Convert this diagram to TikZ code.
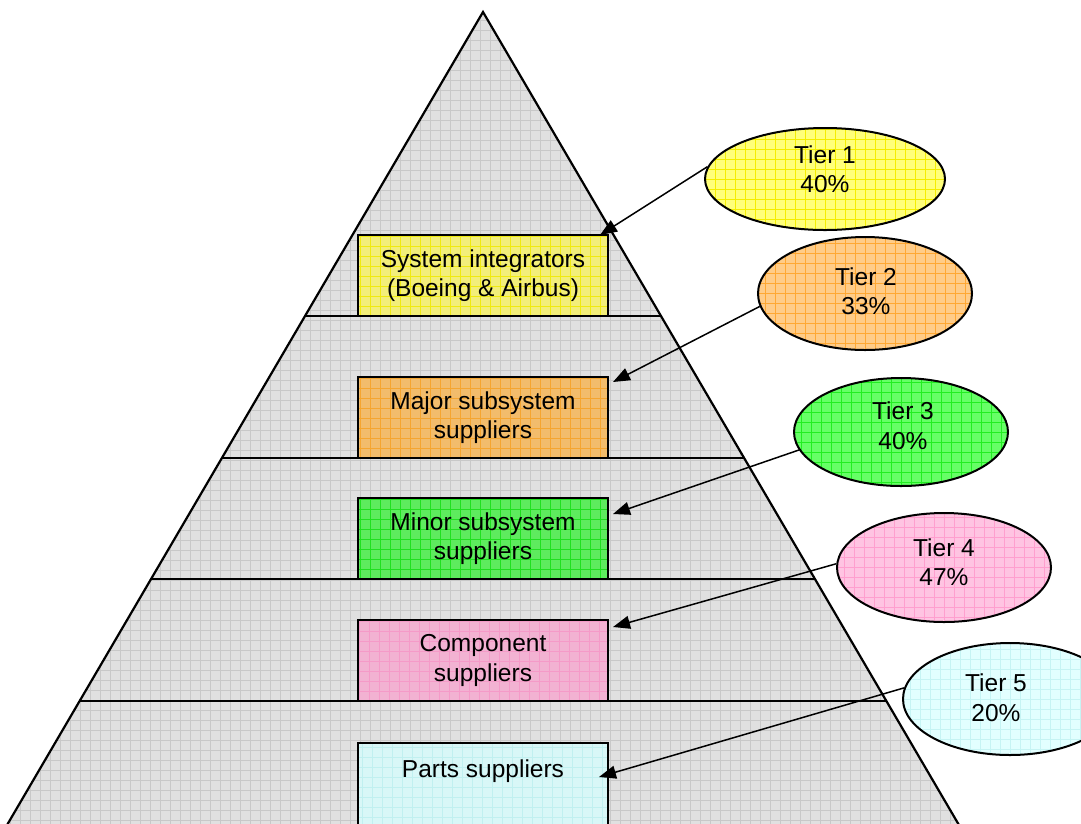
\documentclass[tikz,border=0pt]{standalone}
\usepackage{fontspec}
\setmainfont{Liberation Sans}
\usetikzlibrary{shapes.geometric,arrows.meta}

% fills and their grid lines
\definecolor{trifill}{HTML}{E0E0E0}\definecolor{trigrid}{HTML}{C8C8C8}
\definecolor{bAfill}{HTML}{F2EE7A}\definecolor{bAgrid}{HTML}{F0EA10}
\definecolor{bBfill}{HTML}{F2BC6C}\definecolor{bBgrid}{HTML}{F5A530}
\definecolor{bCfill}{HTML}{5EEB5E}\definecolor{bCgrid}{HTML}{20E020}
\definecolor{bDfill}{HTML}{F2B2D2}\definecolor{bDgrid}{HTML}{F59AC8}
\definecolor{bEfill}{HTML}{D8F7F7}\definecolor{bEgrid}{HTML}{C0F0F0}
\definecolor{eAfill}{HTML}{FFFF7A}\definecolor{eAgrid}{HTML}{F5EE00}
\definecolor{eBfill}{HTML}{FFCC88}\definecolor{eBgrid}{HTML}{FFA833}
\definecolor{eCfill}{HTML}{66FF66}\definecolor{eCgrid}{HTML}{22EE22}
\definecolor{eDfill}{HTML}{FFC4E2}\definecolor{eDgrid}{HTML}{FF9FCF}
\definecolor{eEfill}{HTML}{E2FFFF}\definecolor{eEgrid}{HTML}{C6F4F4}

\begin{document}
\begin{tikzpicture}[x=1pt,y=-1pt,
  every node/.style={font=\fontsize{24.5pt}{29.5pt}\selectfont},
  outline/.style={draw=black, line width=2pt},
  gridded/.style 2 args={fill=#1, path picture={
      \draw[#2, line width=0.9pt]
        ([shift={(-20pt,-20pt)}]path picture bounding box.south west)
        grid[step=10pt]
        ([shift={(20pt,20pt)}]path picture bounding box.north east);}},
  tierbox/.style={outline, rectangle, minimum width=250pt, minimum height=81pt,
      inner sep=0pt, align=center},
  basebox/.style={outline, rectangle, minimum width=250pt, inner sep=0pt,
      text height=34pt, text depth=70pt, anchor=north},
  tierell/.style={outline, ellipse, inner sep=0pt},
  lbl/.style={align=center, inner sep=0pt},
  divider/.style={line width=2pt},
  arr/.style={line width=1.5pt, -{Triangle[length=17pt,width=13pt]}}]

\useasboundingbox (0,0) rectangle (1081,823);
\clip (0,0) rectangle (1081,823);
\fill[white] (0,0) rectangle (1081,823);

% pyramid
\draw[line width=2.2pt, line join=miter, gridded={trifill}{trigrid}]
  (483,12) -- (973.6,850) -- (-7.6,850) -- cycle;

% tier dividers
\draw[divider] (305,316) -- (661,316);
\draw[divider] (222,458) -- (744,458);
\draw[divider] (151,579) -- (815,579);
\draw[divider] (79,701) -- (887,701);

% tier boxes
\node[tierbox, gridded={bAfill}{bAgrid}] (b1) at (483,275.5) {System integrators\\(Boeing \& Airbus)};
\node[tierbox, gridded={bBfill}{bBgrid}] (b2) at (483,417.5) {Major subsystem\\suppliers};
\node[tierbox, gridded={bCfill}{bCgrid}] (b3) at (483,538.5) {Minor subsystem\\suppliers};
\node[tierbox, gridded={bDfill}{bDgrid}] (b4) at (483,660.5) {Component\\suppliers};
\node[basebox, gridded={bEfill}{bEgrid}] (b5) at (483,742) {Parts suppliers};

% share ellipses
\node[tierell, gridded={eAfill}{eAgrid}, minimum width=240pt, minimum height=102pt] (e1) at (825,179) {};
\node[tierell, gridded={eBfill}{eBgrid}, minimum width=214pt, minimum height=113pt] (e2) at (865,293.5) {};
\node[tierell, gridded={eCfill}{eCgrid}, minimum width=214pt, minimum height=108pt] (e3) at (901,432) {};
\node[tierell, gridded={eDfill}{eDgrid}, minimum width=214pt, minimum height=109pt] (e4) at (944,567.5) {};
\node[tierell, gridded={eEfill}{eEgrid}, minimum width=214pt, minimum height=112pt] (e5) at (1010,699) {};

\node[lbl] (l1) at (825,169) {Tier 1\\40\%};
\node[lbl] (l2) at (866,291) {Tier 2\\33\%};
\node[lbl] (l3) at (903,425.5) {Tier 3\\40\%};
\node[lbl] (l4) at (944,562) {Tier 4\\47\%};
\node[lbl] (l5) at (996,697.5) {Tier 5\\20\%};

% arrows from shares to tiers
\draw[arr] (e1.174) -- ([shift={(-9pt,-1pt)}]b1.north east);
\draw[arr] (e2.187) -- ([shift={(4pt,-6pt)}]b2.north east);
\draw[arr] (e3.190) -- ([shift={(4pt,-17pt)}]b3.north east);
\draw[arr] (e4.178) -- ([shift={(4pt,-8pt)}]b4.north east);
\draw[arr] (e5.174) -- ([shift={(-10pt,-35pt)}]b5.north east);
\end{tikzpicture}
\end{document}
